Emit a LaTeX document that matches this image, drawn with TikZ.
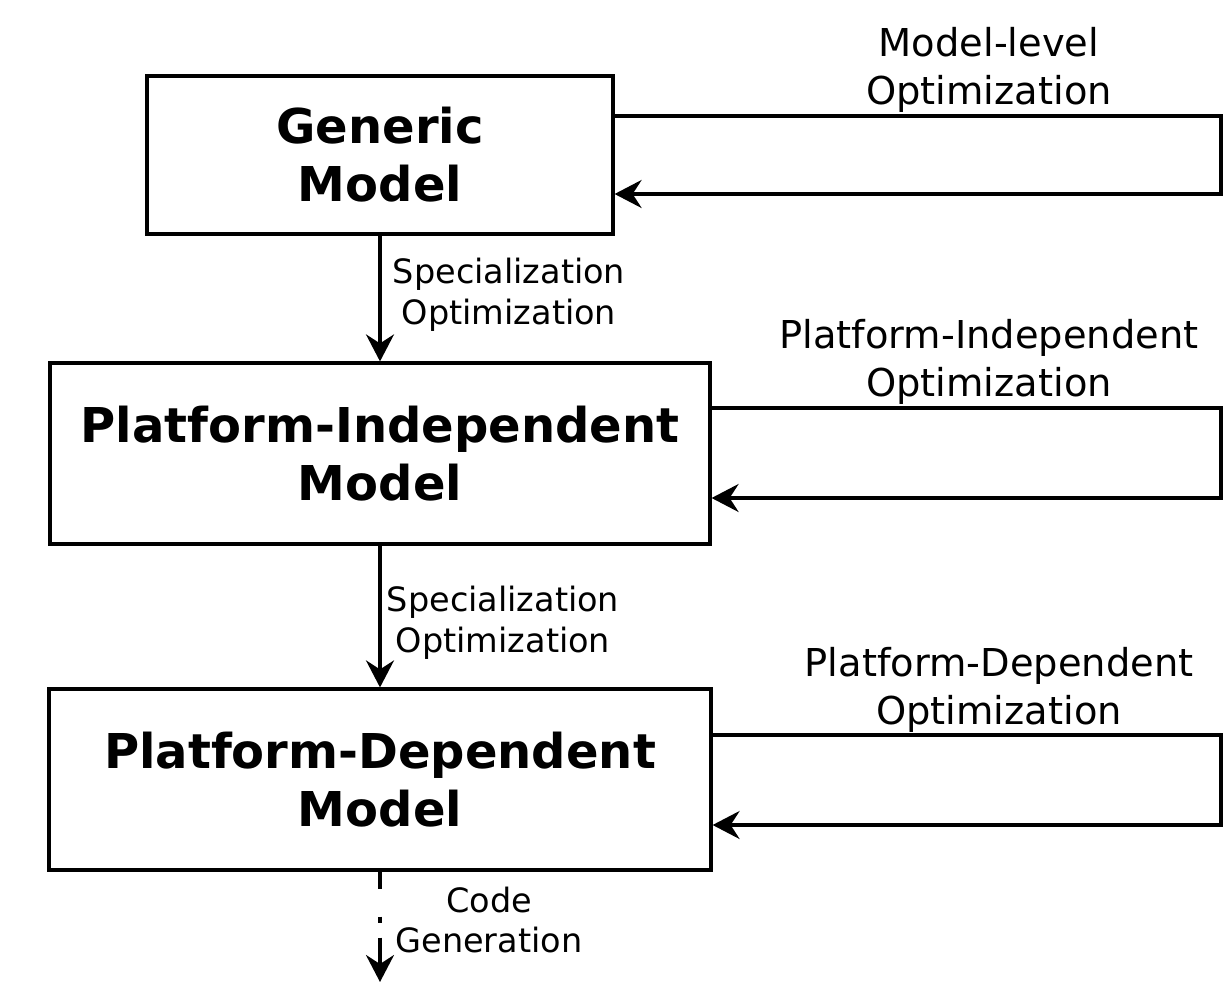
\documentclass[tikz,border=0pt]{standalone}
\usepackage{fontspec}
\setmainfont{DejaVu Sans}
\usetikzlibrary{arrows.meta}
\begin{document}
\begin{tikzpicture}[x=1pt,y=1pt,
  box/.style={draw,line width=3.2pt,align=center,inner sep=0pt,font=\fontsize{48}{58}\selectfont\bfseries},
  conn/.style={line width=3.2pt,-{Stealth[length=27pt,width=28pt,inset=9pt]}},
  biglbl/.style={align=center,font=\fontsize{38.4}{47.5}\selectfont},
  smlbl/.style={align=center,font=\fontsize{33.5}{40.5}\selectfont}]
\useasboundingbox (0,0) rectangle (1223,-982);
\node[box,minimum width=466pt,minimum height=158pt] (g) at (380,-155) {Generic\\Model};
\node[box,minimum width=660pt,minimum height=181pt] (pim) at (380,-453.5) {Platform-Independent\\Model};
\node[box,minimum width=662pt,minimum height=181pt] (pdm) at (380,-779.5) {Platform-Dependent\\Model};
\coordinate (r1a) at (1221,-116);
\coordinate (r1b) at (1221,-194);
\coordinate (r2a) at (1221,-408);
\coordinate (r2b) at (1221,-498);
\coordinate (r3a) at (1221,-735);
\coordinate (r3b) at (1221,-825);
\coordinate (end) at (380,-982);
\draw[conn] ([yshift=39pt]g.east) -- (r1a) -- (r1b) -- ([yshift=-39pt]g.east);
\draw[conn] ([yshift=45.5pt]pim.east) -- (r2a) -- (r2b) -- ([yshift=-44.5pt]pim.east);
\draw[conn] ([yshift=44.5pt]pdm.east) -- (r3a) -- (r3b) -- ([yshift=-45.5pt]pdm.east);
\draw[conn] (g) -- (pim);
\draw[conn] (pim) -- (pdm);
\draw[conn,dash pattern=on 17pt off 28pt on 6pt off 15pt on 300pt] (pdm) -- (end);
\node[biglbl] (l1) at (989,-70) {Model-level\\Optimization};
\node[biglbl] (l2) at (989,-362) {Platform-Independent\\Optimization};
\node[biglbl] (l3) at (999,-690) {Platform-Dependent\\Optimization};
\node[smlbl] (s1) at (509,-295) {Specialization\\Optimization};
\node[smlbl] (s2) at (503,-623) {Specialization\\Optimization};
\node[smlbl] (s3) at (489,-920) {Code\\Generation};
\end{tikzpicture}
\end{document}
